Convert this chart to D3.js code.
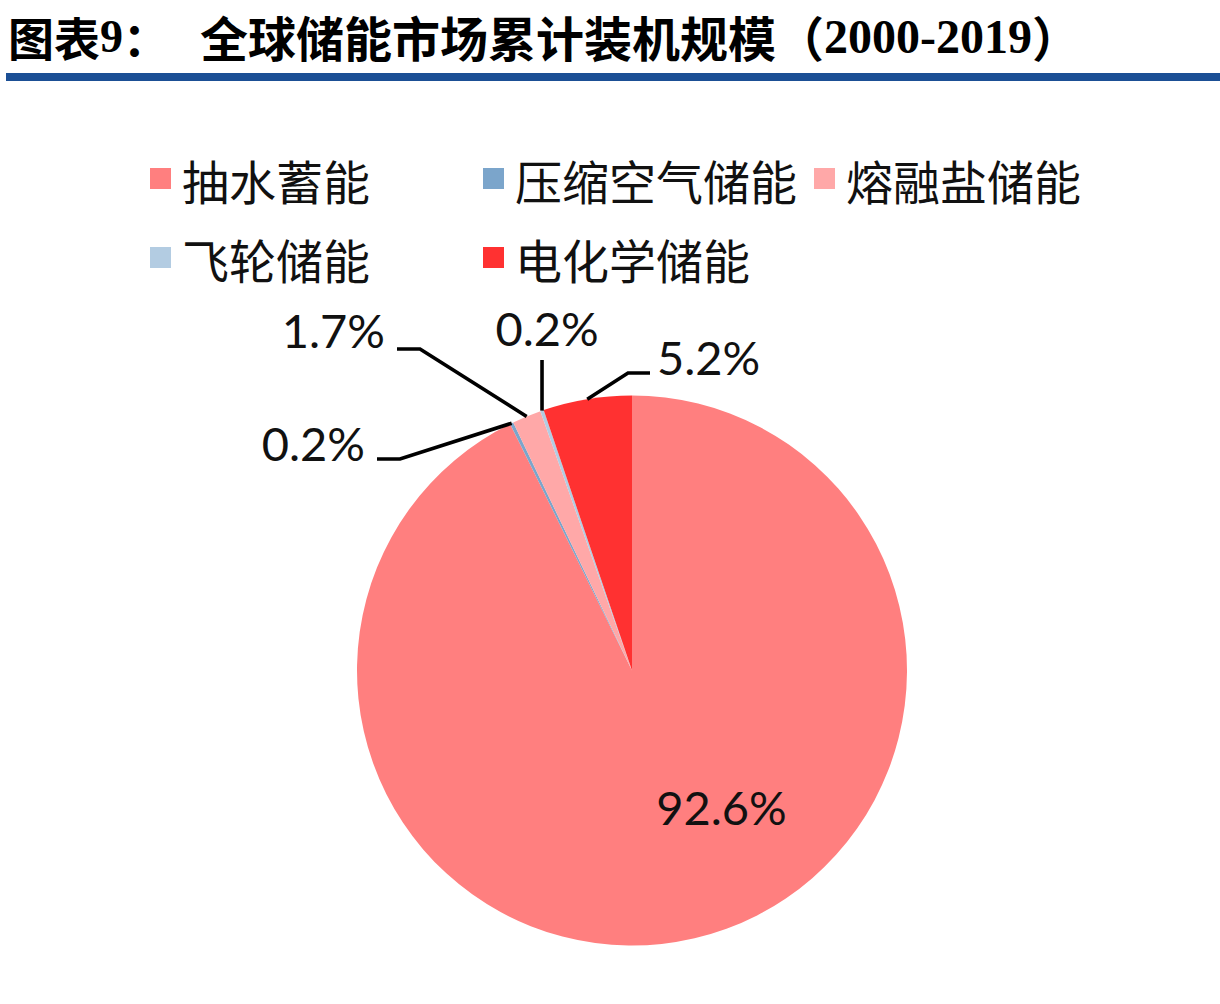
<!DOCTYPE html>
<html>
<head>
<meta charset="utf-8">
<script src="https://cdn.jsdelivr.net/npm/d3@7"></script>
<style>
  html, body { margin: 0; padding: 0; background: #ffffff; }
  svg { display: block; }
</style>
</head>
<body>
<script>
// ---- data ----
const categories = ["抽水蓄能", "压缩空气储能", "熔融盐储能", "飞轮储能", "电化学储能"];
const shares = [92.6, 0.2, 1.7, 0.2, 5.2];
const labels = ["92.6%", "0.2%", "1.7%", "0.2%", "5.2%"];
const colors = ["#FF7F7F", "#7BA5CB", "#FFA8A8", "#B3CCE2", "#FF3131"];
const titlePrefix = "图表9：";
const titleMain = "全球储能市场累计装机规模";
const titleYears = "（2000-2019）";

// ---- layout ----
const W = 1220, H = 1004;
const cx = 632, cy = 670.5, R = 275;

const svg = d3.select("body").append("svg")
  .attr("width", W).attr("height", H)
  .style("background", "#fff");

// title
const cjk = "'Noto Sans CJK SC', 'Noto Sans', sans-serif";
const t1 = svg.append("text")
  .attr("x", 8).attr("y", 36)
  .attr("dominant-baseline", "central")
  .style("font-family", cjk).style("font-weight", 700)
  .style("font-size", "46px").attr("fill", "#000");
t1.append("tspan").text("图表");
t1.append("tspan").style("font-family", "'Liberation Serif', serif").text("9");
t1.append("tspan").text("：");

const t2 = svg.append("text")
  .attr("x", 200).attr("y", 36)
  .attr("dominant-baseline", "central")
  .style("font-family", cjk).style("font-weight", 700)
  .style("font-size", "48px").attr("fill", "#000");
t2.append("tspan").text(titleMain);
t2.append("tspan").text("（");
t2.append("tspan").style("font-family", "'Liberation Serif', serif").text("2000-2019");
t2.append("tspan").text("）");

// blue rule
svg.append("rect").attr("x", 6).attr("y", 73).attr("width", W - 6).attr("height", 8)
  .attr("fill", "#1B4F95");

// legend
const legendPos = [
  {x: 150, y: 179}, {x: 483, y: 179}, {x: 814, y: 179},
  {x: 150, y: 258}, {x: 483, y: 258}
];
const lg = svg.append("g").selectAll("g").data(categories).join("g")
  .attr("transform", (d, i) => `translate(${legendPos[i].x},${legendPos[i].y})`);
lg.append("rect").attr("x", 0).attr("y", -11).attr("width", 21).attr("height", 21)
  .attr("fill", (d, i) => colors[i]);
lg.append("text").attr("x", 32).attr("y", 0)
  .attr("dominant-baseline", "central")
  .style("font-family", cjk).style("font-weight", 400)
  .style("font-size", "47px").attr("fill", "#111")
  .text(d => d);

// pie
const pie = d3.pie().sort(null).value(d => d)(shares);
const arc = d3.arc().innerRadius(0).outerRadius(R);
const g = svg.append("g").attr("transform", `translate(${cx},${cy})`);
g.selectAll("path").data(pie).join("path")
  .attr("d", arc)
  .attr("fill", (d, i) => colors[i])
  .attr("stroke", "none");

// label layout: elbow offset from center, horizontal leg, text anchor
const labelLayout = [
  null,
  {ex: -232, ey: -211.5, hx: -23, anchor: "end", tdx: -12, tdy: -16},
  {ex: -212, ey: -321.5, hx: -23, anchor: "end", tdx: -12, tdy: -19},
  {ex: -89, ey: -310.5, hx: 0, anchor: "middle", tdx: 5, tdy: -32},
  {ex: -4, ey: -297.5, hx: 22, anchor: "start", tdx: 7, tdy: -16}
];
const fontNum = "Lato, 'Open Sans', sans-serif";

pie.forEach((d, i) => {
  const lay = labelLayout[i];
  const mid = (d.startAngle + d.endAngle) / 2;
  if (!lay) {
    // big slice label inside
    const c = d3.arc().innerRadius(0).outerRadius(R * 0.62).centroid(d);
    g.append("text")
      .attr("x", c[0] + 70).attr("y", c[1] + 53)
      .attr("text-anchor", "middle").attr("dominant-baseline", "central")
      .style("font-family", fontNum).style("font-size", "47px").attr("fill", "#111")
      .text(labels[i]);
    return;
  }
  const px = R * Math.sin(mid), py = -R * Math.cos(mid);
  const elbowX = lay.anchor === "middle" ? px : lay.ex;
  const pts = [[px, py], [elbowX, lay.ey], [elbowX + lay.hx, lay.ey]];
  g.append("path")
    .attr("d", d3.line()(pts))
    .attr("fill", "none").attr("stroke", "#000").attr("stroke-width", 3.6);
  const endX = pts[2][0];
  g.append("text")
    .attr("x", endX + lay.tdx).attr("y", lay.ey + lay.tdy)
    .attr("text-anchor", lay.anchor).attr("dominant-baseline", "central")
    .style("font-family", fontNum).style("font-size", "47px").attr("fill", "#111")
    .text(labels[i]);
});
</script>
</body>
</html>
